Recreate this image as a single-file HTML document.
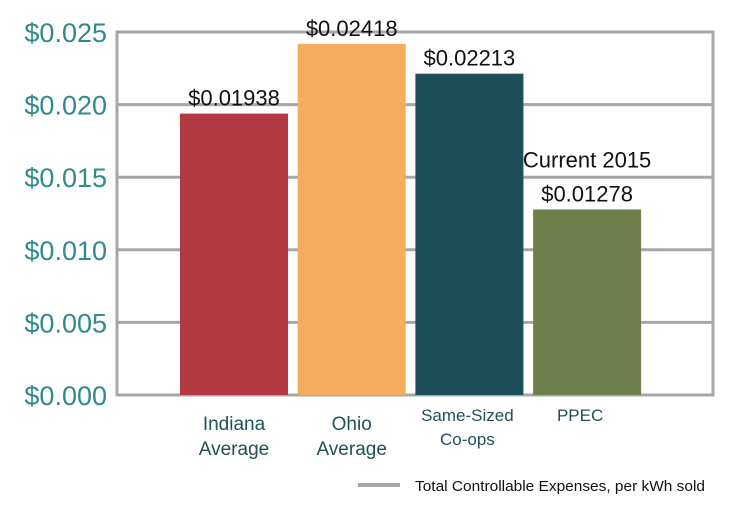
<!DOCTYPE html>
<html><head><meta charset="utf-8"><style>
body{margin:0;background:#fff;}
svg{display:block;font-family:"Liberation Sans",sans-serif;}
</style></head><body>
<svg width="732" height="510">
<g id="grid"></g><g id="bars"></g><g id="labels"></g>
<g>
<line x1="358" y1="485" x2="400" y2="485" stroke="#a7a7a9" stroke-width="4"/>
<text x="415" y="491" font-size="15" fill="#111" textLength="290" lengthAdjust="spacingAndGlyphs">Total Controllable Expenses, per kWh sold</text>
</g>
</svg>
<script>
const categories=[["Indiana","Average"],["Ohio","Average"],["Same-Sized","Co-ops"],["PPEC"]];
const values=[0.01938,0.02418,0.02213,0.01278];
const valueLabels=["$0.01938","$0.02418","$0.02213","$0.01278"];
const colors=["#b23842","#f6ac5e","#1c4f5a","#6e7f4b"];
const ticks=[0,0.005,0.01,0.015,0.02,0.025];
const tickLabels=["$0.000","$0.005","$0.010","$0.015","$0.020","$0.025"];
const NS="http://www.w3.org/2000/svg";
const y0=395,yTop=32,vmax=0.025;
const y=v=>y0-(v/vmax)*(y0-yTop);
const barX=i=>180+i*117.7, bw=108;
function mk(tag,attrs,parent,txt){const e=document.createElementNS(NS,tag);for(const k in attrs)e.setAttribute(k,attrs[k]);if(txt!=null)e.textContent=txt;parent.appendChild(e);return e;}
const grid=document.getElementById('grid'),bars=document.getElementById('bars'),labels=document.getElementById('labels');
ticks.forEach((t,i)=>{
  const l=mk('line',{x1:117,x2:713,y1:y(t),y2:y(t),stroke:'#a7a7a9','stroke-width':3},grid);
  
  
  const tx=mk('text',{x:107,y:y(t)+10,'text-anchor':'end','font-size':27,fill:'#2f8a8b'},labels,tickLabels[i]);
  
  
});
const fl=mk('line',{x1:117,x2:117,y1:yTop-1.5,y2:y0+1.5,stroke:'#a7a7a9','stroke-width':3},grid);


const fr=mk('line',{x1:713,x2:713,y1:yTop-1.5,y2:y0+1.5,stroke:'#a7a7a9','stroke-width':3},grid);


values.forEach((v,i)=>{
  const x=barX(i);
  const r=mk('rect',{x:x,y:y(v),width:bw,height:y0-y(v),fill:colors[i]},bars);
  
  
  const vl=mk('text',{x:x+bw/2,y:y(v)-8,'text-anchor':'middle','font-size':22,fill:'#111'},labels,valueLabels[i]);
  
  
  if(i===3){
    const c=mk('text',{x:x+bw/2,y:y(v)-42,'text-anchor':'middle','font-size':22,fill:'#111'},labels,'Current 2015');
    
    
  }
  const cat=categories[i];
  const small=i>=2;
  const cx=i===2?x+bw/2-2:(i===3?x+47:x+bw/2);
  cat.forEach((s,j)=>{
    const t=mk('text',{x:cx,y:(small?421:430)+j*(small?24:25),'text-anchor':'middle','font-size':small?17:19,fill:'#1f5157'},labels,s);
    
    
  });
});
</script>
</body></html>
